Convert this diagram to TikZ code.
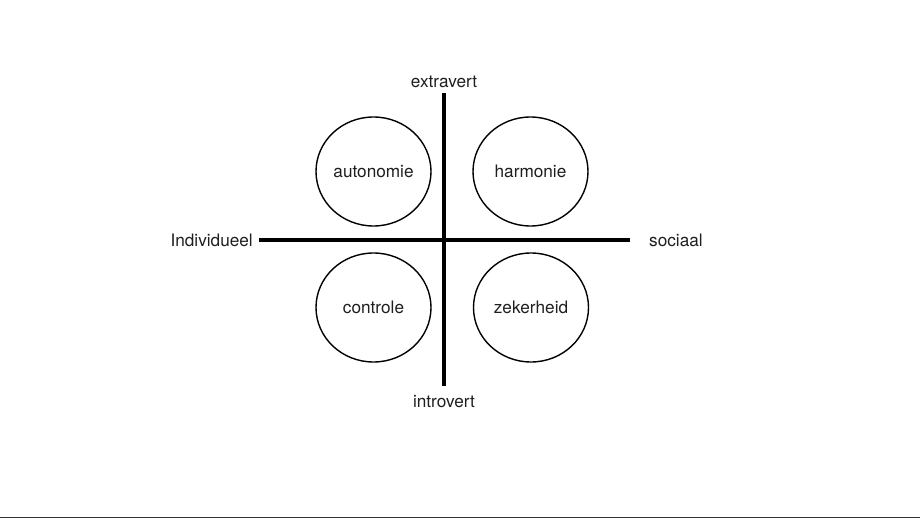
\documentclass[tikz,border=0pt]{standalone}
\usepackage{fontspec}
\setmainfont{TeX Gyre Heros}
\usetikzlibrary{shapes.geometric}
\begin{document}
\begin{tikzpicture}[x=1pt,y=-1pt,
  lbl/.style={font=\fontsize{17.2}{20}\selectfont, text=black!88, inner sep=0pt},
  bubble/.style={ellipse, draw, line width=1.4pt, minimum width=115pt, minimum height=109pt, inner sep=0pt, font=\fontsize{17.2}{20}\selectfont, text=black!88},
  axis/.style={line width=4pt}]
\useasboundingbox (0,0) rectangle (920,518);
\fill[white] (0,0) rectangle (920,518);
% axes
\coordinate (top) at (444,93);
\coordinate (bot) at (444,386);
\coordinate (left) at (259,240);
\coordinate (right) at (630,240);
\draw[axis] (top) -- (bot);
\draw[axis] (left) -- (right);
% axis labels
\node[lbl] (ext) at (444,82) {extravert};
\node[lbl] (intr) at (444,402) {introvert};
\node[lbl, anchor=east] (ind) at (253,240) {Individueel};
\node[lbl, anchor=west] (soc) at (649,240) {sociaal};
% bubbles
\node[bubble] (aut) at (373.5,171.5) {autonomie};
\node[bubble] (har) at (530.5,171.5) {harmonie};
\node[bubble] (con) at (373.5,307.5) {controle};
\node[bubble] (zek) at (531,307.5) {zekerheid};
% bottom rule
\draw[black!80, line width=1pt] (0,517) -- (920,517);
\end{tikzpicture}
\end{document}
